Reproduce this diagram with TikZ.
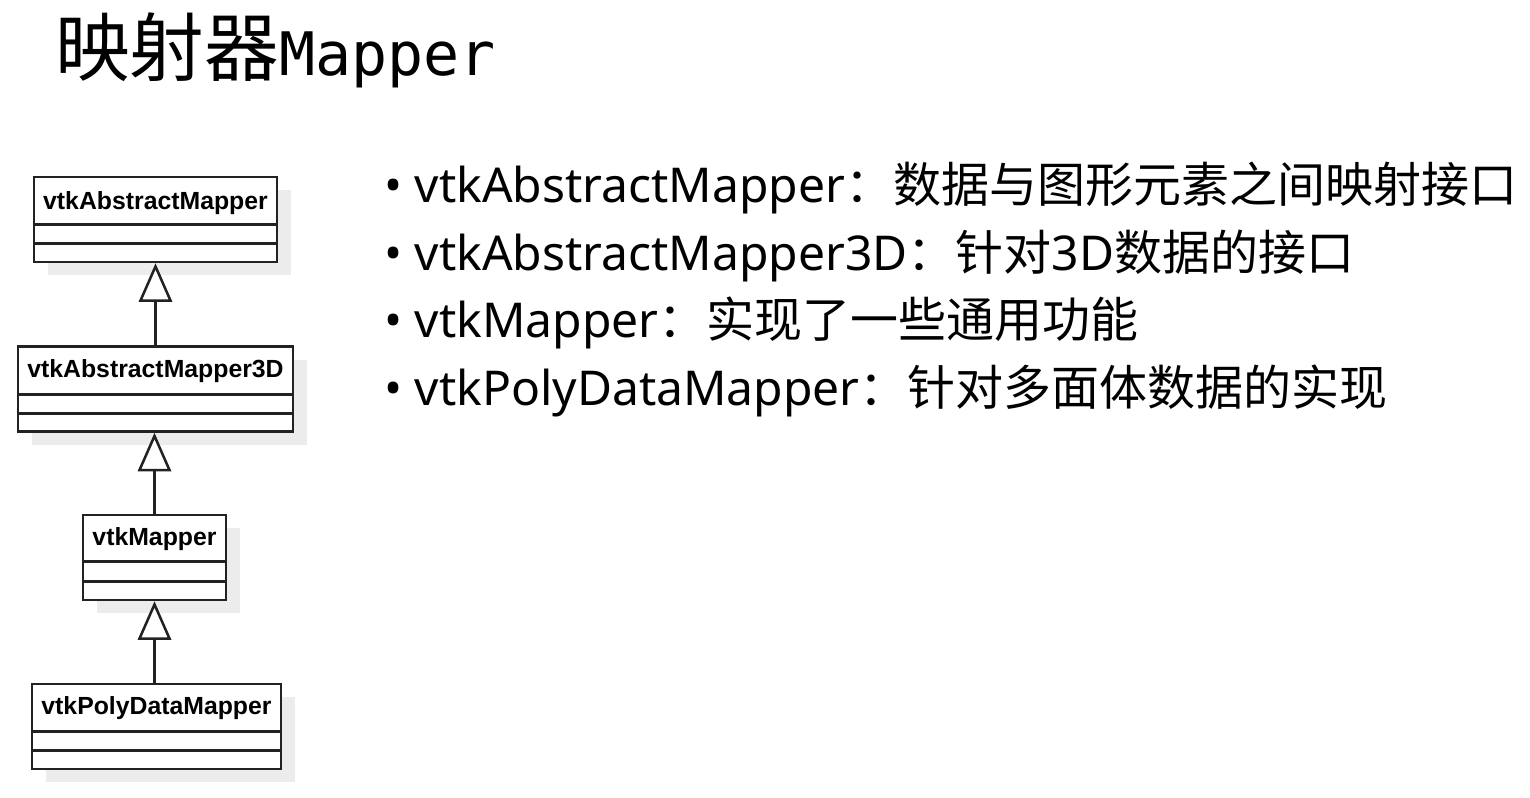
\documentclass[tikz,border=0pt]{standalone}
\usepackage{fontspec}
\setmainfont{Noto Sans}
\newfontfamily\cjkfont{Noto Sans CJK SC}
\newfontfamily\umlfont{Liberation Sans}
\newfontfamily\titlemono{DejaVu Sans Mono}
\usetikzlibrary{arrows.meta,shadows}

\tikzset{every picture/.style={line width=1.9pt}}

\begin{document}
\begin{tikzpicture}[x=0.75pt,y=0.75pt,yscale=-1,xscale=1,
	umlclass/.style={draw={rgb, 255:red, 34; green, 34; blue, 34 }, fill=white, rectangle, inner sep=0pt, minimum height=63.75pt, drop shadow={shadow xshift=10.5pt, shadow yshift=-9.75pt, fill={rgb, 255:red, 236; green, 236; blue, 236 }, opacity=1}},
	umlname/.style={anchor=base, inner sep=0pt, font=\umlfont\bfseries\fontsize{18.6}{22}\selectfont},
	inherit/.style={draw={rgb, 255:red, 34; green, 34; blue, 34 }, -{Triangle[length=29pt, width=25pt, fill=white]}},
	bulletline/.style={anchor=base west, inner sep=0pt, font=\fontsize{36}{43}\selectfont}]
	\useasboundingbox (0,0) rectangle (1530,797);

	% Title
	\node [anchor=base west, inner sep=0pt] (title) at (54,75) {{\cjkfont\fontsize{56}{60}\selectfont 映射器}{\titlemono\fontsize{45}{50}\selectfont Mapper}};

	%Class boxes
	\node [umlclass, minimum width=182.25pt] (amapper) at (155.5,219.5) {};
	\node [umlclass, minimum width=206.25pt] (amapper3d) at (155.5,389) {};
	\node [umlclass, minimum width=107.25pt] (mapper) at (154.5,557.5) {};
	\node [umlclass, minimum width=186.75pt] (pdmapper) at (156.5,726.5) {};

	%Compartment lines
	\draw [draw={rgb, 255:red, 34; green, 34; blue, 34 }] ([yshift=36.75pt]amapper.north west) -- ([yshift=36.75pt]amapper.north east) ;
	\draw [draw={rgb, 255:red, 34; green, 34; blue, 34 }] ([yshift=51pt]amapper.north west) -- ([yshift=51pt]amapper.north east) ;
	\draw [draw={rgb, 255:red, 34; green, 34; blue, 34 }] ([yshift=36.75pt]amapper3d.north west) -- ([yshift=36.75pt]amapper3d.north east) ;
	\draw [draw={rgb, 255:red, 34; green, 34; blue, 34 }] ([yshift=51pt]amapper3d.north west) -- ([yshift=51pt]amapper3d.north east) ;
	\draw [draw={rgb, 255:red, 34; green, 34; blue, 34 }] ([yshift=36pt]mapper.north west) -- ([yshift=36pt]mapper.north east) ;
	\draw [draw={rgb, 255:red, 34; green, 34; blue, 34 }] ([yshift=51pt]mapper.north west) -- ([yshift=51pt]mapper.north east) ;
	\draw [draw={rgb, 255:red, 34; green, 34; blue, 34 }] ([yshift=36.75pt]pdmapper.north west) -- ([yshift=36.75pt]pdmapper.north east) ;
	\draw [draw={rgb, 255:red, 34; green, 34; blue, 34 }] ([yshift=51pt]pdmapper.north west) -- ([yshift=51pt]pdmapper.north east) ;

	%Class names
	\node [umlname] (amappername) at ([yshift=25pt]amapper.north) {vtkAbstractMapper};
	\node [umlname] (amapper3dname) at ([yshift=24pt]amapper3d.north) {vtkAbstractMapper3D};
	\node [umlname] (mappername) at ([yshift=24pt]mapper.north) {vtkMapper};
	\node [umlname] (pdmappername) at ([yshift=24pt]pdmapper.north) {vtkPolyDataMapper};

	%Generalisation arrows
	\draw [inherit] (amapper3d.north) -- (amapper.south) ;
	\draw [inherit] (mapper.north) -- (mapper.north |- amapper3d.south) ;
	\draw [inherit] (pdmapper.north -| mapper.south) -- (mapper.south) ;

	% Text Node
	\node [bulletline] (line1) at (383,202) {•\ vtkAbstractMapper{\cjkfont ：数据与图形元素之间映射接口}};
	% Text Node
	\node [bulletline] (line2) at (383,270) {•\ vtkAbstractMapper3D{\cjkfont ：针对}3D{\cjkfont 数据的接口}};
	% Text Node
	\node [bulletline] (line3) at (383,337) {•\ vtkMapper{\cjkfont ：实现了一些通用功能}};
	% Text Node
	\node [bulletline] (line4) at (383,405) {•\ vtkPolyDataMapper{\cjkfont ：针对多面体数据的实现}};

\end{tikzpicture}
\end{document}
